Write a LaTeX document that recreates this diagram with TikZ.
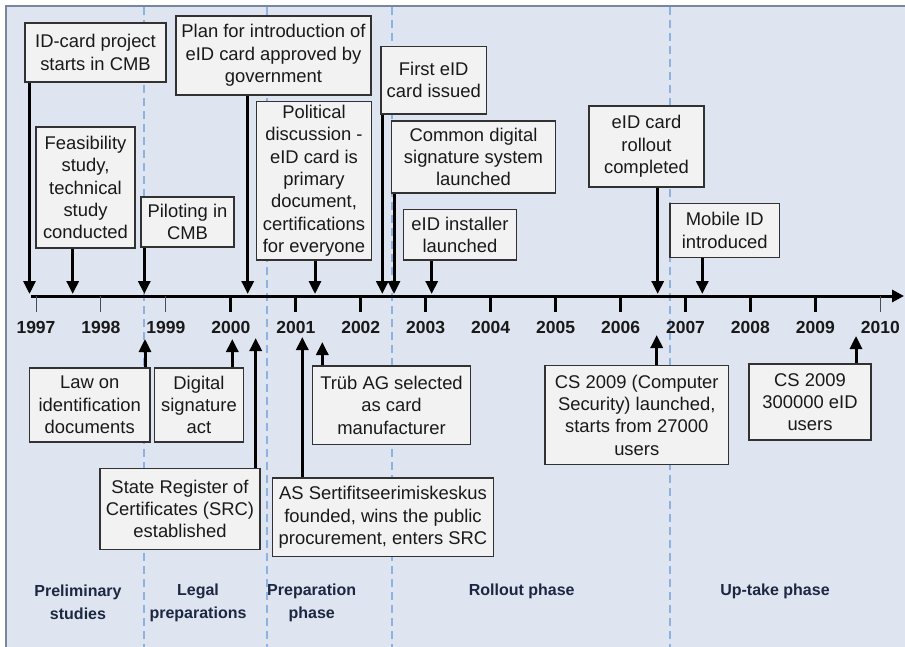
\documentclass[tikz,border=0pt]{standalone}
\usepackage{fontspec}
\setmainfont{Liberation Sans}
\usetikzlibrary{arrows.meta}
\definecolor{bgc}{RGB}{222,229,240}
\definecolor{framec}{RGB}{120,135,160}
\definecolor{boxfill}{RGB}{242,242,242}
\definecolor{boxline}{RGB}{50,50,50}
\definecolor{dashc}{RGB}{140,178,226}
\definecolor{phasec}{RGB}{28,40,66}
\definecolor{yearc}{RGB}{25,25,25}
\tikzset{
  evbox/.style={draw=boxline, fill=boxfill, line width=1.3pt, align=center, inner sep=0pt,
    font=\fontsize{18.4}{22.3}\selectfont, text=black!90},
  evarrow/.style={line width=3pt, draw=black, -{Triangle[width=12pt,length=13pt]}},
  yearlbl/.style={font=\fontsize{17.5}{20}\selectfont\bfseries, text=yearc, inner sep=0pt},
  phaselbl/.style={font=\fontsize{16}{23}\selectfont\bfseries, text=phasec, align=center, inner sep=0pt},
  phasesep/.style={draw=dashc, line width=1.2pt, dash pattern=on 8pt off 5pt},
  thicktick/.style={line width=3pt, draw=black},
  thintick/.style={line width=1pt, draw=black!70}
}
\begin{document}
\begin{tikzpicture}[x=1pt,y=-1pt]
\useasboundingbox (0,0) rectangle (905,647);
% background panel
\fill[bgc] (6,6) rectangle (905,647);
\draw[framec, line width=1.4pt] (6,647) -- (6,6) -- (905,6);
% phase separators
\foreach \x in {144,267,392,670} {
  \draw[phasesep] (\x,7) -- (\x,647);
}
% axis
\coordinate (axs) at (31,296);
\coordinate (axe) at (904,296);
\draw[line width=3pt, -{Triangle[width=12pt,length=12pt]}] (axs) -- (axe);
% ticks and years
\foreach \yr [evaluate=\yr as \xx using {36+64.95*(\yr-1997)}] in {1997,...,2010} {
  \coordinate (tk\yr) at (\xx,296);
  \node[yearlbl] (y\yr) at (\xx,327) {\yr};
}
\foreach \yr in {1997,1998,1999,2010} { \draw[thintick] (tk\yr) -- ++(0,16); }
\foreach \yr in {2000,...,2009} { \draw[thicktick] (tk\yr) -- ++(0,16); }

% upper events
\node[evbox, minimum width=141pt, minimum height=59pt] (b1) at (95.5,52.5) {ID-card project\\starts in CMB};
\node[evbox, minimum width=99pt, minimum height=121pt] (b2) at (85.5,187.5) {Feasibility\\study,\\technical\\study\\conducted};
\node[evbox, minimum width=93pt, minimum height=50pt] (b3) at (187.5,222) {Piloting in\\CMB};
\node[evbox, minimum width=195pt, minimum height=79pt] (b4) at (273.5,55.5) {Plan for introduction of\\eID card approved by\\government};
\node[evbox, minimum width=115pt, minimum height=158.5pt] (b5) at (314,180.75) {Political\\discussion -\\eID card is\\primary\\document,\\certifications\\for everyone};
\node[evbox, minimum width=105.5pt, minimum height=67.5pt] (b6) at (433.75,80.25) {First eID\\card issued};
\node[evbox, minimum width=164pt, minimum height=72pt] (b7) at (473.5,157) {Common digital\\signature system\\launched};
\node[evbox, minimum width=113pt, minimum height=50.5pt] (b8) at (460,234.75) {eID installer\\launched};
\node[evbox, minimum width=115pt, minimum height=81pt] (b9) at (646.5,146.5) {eID card\\rollout\\completed};
\node[evbox, minimum width=109.5pt, minimum height=54pt] (b10) at (724.75,230.5) {Mobile ID\\introduced};

% lower events
\node[evbox, minimum width=120.5pt, minimum height=74pt] (b11) at (89.75,405) {Law on\\identification\\documents};
\node[evbox, minimum width=89pt, minimum height=74pt] (b12) at (199,405) {Digital\\signature\\act};
\node[evbox, minimum width=160pt, minimum height=81pt] (b13) at (180,509) {State Register of\\Certificates (SRC)\\established};
\node[evbox, minimum width=158pt, minimum height=78.5pt] (b14) at (391.5,405.25) {Trüb AG selected\\as card\\manufacturer};
\node[evbox, minimum width=221pt, minimum height=78.5pt] (b15) at (383,517.25) {AS Sertifitseerimiskeskus\\founded, wins the public\\procurement, enters SRC};
\node[evbox, minimum width=183.5pt, minimum height=99pt] (b16) at (636.75,415) {CS 2009 (Computer\\Security) launched,\\starts from 27000\\users};
\node[evbox, minimum width=122pt, minimum height=76pt] (b17) at (810,402) {CS 2009\\300000 eID\\users};

% arrow target points on the axis
\coordinate (p1) at (29.5,294);
\coordinate (p2) at (72.7,294);
\coordinate (p3) at (144.3,294);
\coordinate (p4) at (247.7,294);
\coordinate (p5) at (315,294);
\coordinate (p6) at (382.3,294);
\coordinate (p7) at (394,294);
\coordinate (p8) at (431.7,294);
\coordinate (p9) at (657.7,294);
\coordinate (p10) at (702.3,294);
\coordinate (p11) at (145,339);
\coordinate (p12) at (232.3,339);
\coordinate (p13) at (255.7,338);
\coordinate (p14) at (322.3,342);
\coordinate (p15) at (302.3,337);
\coordinate (p16) at (656.7,335);
\coordinate (p17) at (856,336);

\foreach \i in {1,...,10} { \draw[evarrow] (b\i.south -| p\i) -- (p\i); }
\foreach \i in {11,...,17} { \draw[evarrow] (b\i.north -| p\i) -- (p\i); }

% phase labels
\node[phaselbl] (ph1) at (78,602.5) {Preliminary\\studies};
\node[phaselbl] (ph2) at (198,602.5) {Legal\\preparations};
\node[phaselbl] (ph3) at (311.7,602.5) {Preparation\\phase};
\node[phaselbl] (ph4) at (521.7,591) {Rollout phase};
\node[phaselbl] (ph5) at (775,591) {Up-take phase};
\end{tikzpicture}
\end{document}
